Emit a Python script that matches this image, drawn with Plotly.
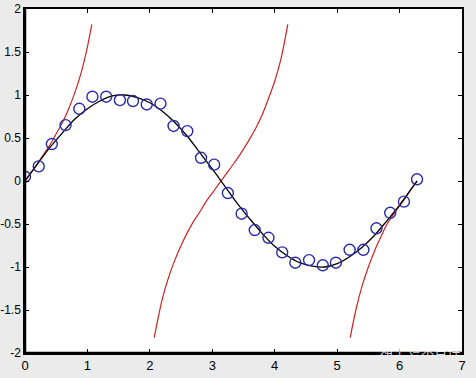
import plotly.graph_objects as go

# Sample points (circles)
pts_x = [0.00, 0.22, 0.43, 0.65, 0.87, 1.08, 1.30, 1.52, 1.73, 1.95,
         2.17, 2.38, 2.60, 2.82, 3.03, 3.25, 3.47, 3.68, 3.90, 4.12,
         4.33, 4.55, 4.77, 4.98, 5.20, 5.42, 5.63, 5.85, 6.07, 6.28]
pts_y = [0.05, 0.17, 0.43, 0.65, 0.84, 0.98, 0.98, 0.94, 0.93, 0.89,
         0.90, 0.64, 0.58, 0.27, 0.19, -0.14, -0.38, -0.57, -0.66, -0.83,
         -0.95, -0.92, -0.98, -0.95, -0.80, -0.80, -0.55, -0.37, -0.24, 0.02]

# Black smooth curve
fit_x = [0.0, 0.2, 0.4, 0.6, 0.8, 1.0, 1.2, 1.4, 1.6, 1.8, 2.0, 2.2, 2.4, 2.6, 2.8, 3.0,
         3.2, 3.4, 3.6, 3.8, 4.0, 4.2, 4.4, 4.6, 4.8, 5.0, 5.2, 5.4, 5.6, 5.8, 6.0, 6.2, 6.28]
fit_y = [0.00, 0.20, 0.39, 0.56, 0.72, 0.84, 0.93, 0.99, 1.00, 0.97, 0.91, 0.81, 0.68, 0.52, 0.33, 0.14,
         -0.06, -0.26, -0.44, -0.61, -0.76, -0.87, -0.95, -0.99, -1.00, -0.96, -0.88, -0.77, -0.63, -0.46, -0.28, -0.08, 0.00]

# Red curve, three branches
red1_x = [0.0, 0.1, 0.2, 0.3, 0.4, 0.5, 0.6, 0.7, 0.8, 0.9, 1.0, 1.07]
red1_y = [0.00, 0.10, 0.20, 0.31, 0.42, 0.55, 0.68, 0.84, 1.03, 1.26, 1.56, 1.82]
red2_x = [2.07, 2.1, 2.2, 2.3, 2.4, 2.5, 2.6, 2.7, 2.8, 2.9, 3.0, 3.1, 3.2, 3.3,
          3.4, 3.5, 3.6, 3.7, 3.8, 3.9, 4.0, 4.1, 4.21]
red2_y = [-1.82, -1.71, -1.37, -1.12, -0.92, -0.75, -0.60, -0.47, -0.36, -0.24, -0.14, -0.04, 0.06, 0.16,
          0.26, 0.37, 0.49, 0.62, 0.77, 0.96, 1.16, 1.42, 1.82]
red3_x = [5.21, 5.3, 5.4, 5.5, 5.6, 5.7, 5.8, 5.9, 6.0, 6.1, 6.2, 6.28]
red3_y = [-1.82, -1.50, -1.22, -1.00, -0.81, -0.65, -0.50, -0.39, -0.29, -0.19, -0.08, 0.00]

x_ticks = [0, 1, 2, 3, 4, 5, 6, 7]
y_ticks = [-2, -1.5, -1, -0.5, 0, 0.5, 1, 1.5, 2]
y_tick_text = ["-2", "-1.5", "-1", "-0.5", "0", "0.5", "1", "1.5", "2"]

RED = "#cc2424"
fig = go.Figure()
for rx, ry in [(red1_x, red1_y), (red2_x, red2_y), (red3_x, red3_y)]:
    fig.add_trace(go.Scatter(x=rx, y=ry, mode="lines", line=dict(color=RED, width=1.2, shape="spline"),
                             hoverinfo="skip"))
fig.add_trace(go.Scatter(x=fit_x, y=fit_y, mode="lines", line=dict(color="black", width=1.3, shape="spline")))
fig.add_trace(go.Scatter(x=pts_x, y=pts_y, mode="markers",
                         marker=dict(symbol="circle-open", size=11, color="#2a2aa8", line=dict(width=1.4))))

axis_common = dict(showgrid=False, zeroline=False, showline=True, linecolor="black", linewidth=1.5,
                   mirror="ticks", ticks="inside", ticklen=4, tickcolor="black", tickwidth=1,
                   automargin=False, ticklabelstandoff=0)
fig.update_xaxes(range=[0, 7], tickvals=x_ticks, ticktext=[str(v) for v in x_ticks],
                 tickfont=dict(family="Liberation Sans, Arial", size=13, color="black"), **axis_common)
fig.update_yaxes(range=[-2, 2], tickvals=y_ticks, ticktext=y_tick_text,
                 tickfont=dict(family="Liberation Sans, Arial", size=12, color="black"), **axis_common)

# thicker left and bottom axis lines
fig.add_shape(type="line", xref="paper", yref="paper", x0=0, x1=1, y0=0, y1=0, line=dict(color="black", width=2.5))
fig.add_shape(type="line", xref="paper", yref="paper", x0=0, x1=0, y0=0, y1=1, line=dict(color="black", width=2.5))

fig.add_annotation(text="知乎 @朱吉祥", xref="paper", yref="paper", x=1.0, y=0.0, xanchor="right", yanchor="middle",
                   yshift=5, showarrow=False,
                   font=dict(family="Noto Sans CJK SC", size=13, color="rgba(255,255,255,0.85)"))

fig.update_layout(width=476, height=378, margin=dict(l=25, r=14, t=9, b=25),
                  paper_bgcolor="#ebebeb", plot_bgcolor="white", showlegend=False)
fig.write_html("out.html")
